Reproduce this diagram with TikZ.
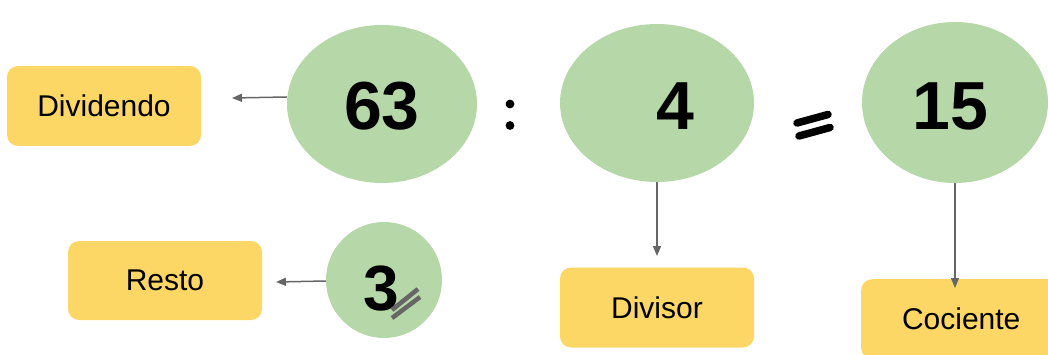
\documentclass[tikz,border=0pt]{standalone}
\usepackage{fontspec}
\setmainfont{Liberation Sans}
\usetikzlibrary{arrows.meta,shapes.geometric}
\definecolor{lbl}{HTML}{FDD765}
\definecolor{circ}{HTML}{B6D7A8}
\definecolor{conn}{HTML}{666666}
\begin{document}
\begin{tikzpicture}[x=1pt,y=-1pt,
  labelbox/.style={fill=lbl,rounded corners=11pt,minimum width=194pt,minimum height=80pt,inner sep=0pt,font=\fontsize{30}{35}\selectfont},
  numcirc/.style={ellipse,fill=circ,inner sep=0pt},
  bignum/.style={font=\fontsize{68}{80}\selectfont\bfseries},
  arr/.style={draw=conn,line width=1.5pt,-{Triangle[length=10pt,width=8pt]}}
]
\useasboundingbox (0,0) rectangle (1048,355);
% circles
\node[numcirc,minimum width=190pt,minimum height=158pt] (c63) at (382,104) {};
\node[numcirc,minimum width=194pt,minimum height=158pt] (c4) at (657,103) {};
\node[numcirc,minimum width=186pt,minimum height=161pt] (c15) at (955,102.5) {};
\node[circle,fill=circ,minimum size=116pt,inner sep=0pt] (c3) at (384,280) {};
% numbers
\node[bignum] (t63) at (382,106) {63};
\node[bignum] (t4) at (675,106) {4};
\node[bignum] (t15) at (950,106) {15};
\node[bignum,font=\fontsize{64}{76}\selectfont\bfseries] (t3) at (381,289) {3};
\draw[conn,line width=4.5pt] (392,318) -- (420,297);
\draw[conn,line width=4.5pt] (392,310) -- (418,289);
% operators
\fill (510,104) circle (4.4pt);
\fill (510,125.5) circle (4.4pt);
\draw[line width=7.5pt,line cap=round] (797,123) -- (828,114.5);
\draw[line width=7.5pt,line cap=round] (799,136) -- (830,127.5);
% label boxes
\node[labelbox] (dividendo) at (104,106) {Dividendo};
\node[labelbox,minimum height=79pt] (resto) at (165,280.5) {Resto};
\node[labelbox] (divisor) at (657,307.5) {Divisor};
\node[labelbox,anchor=north west,minimum width=200pt] (cociente) at (861,279) {Cociente};
% connectors
\coordinate (tipdiv) at (232,98);
\coordinate (tipres) at (276,282);
\coordinate (tipdvs) at (657,256);
\coordinate (tipcoc) at (955,288);
\draw[arr] (c63.west |- 0,97) -- (tipdiv);
\draw[arr] (c3.west |- 0,281) -- (tipres);
\draw[arr] (c4.south) -- (tipdvs);
\draw[arr] (c15.south) -- (tipcoc);
\end{tikzpicture}
\end{document}
